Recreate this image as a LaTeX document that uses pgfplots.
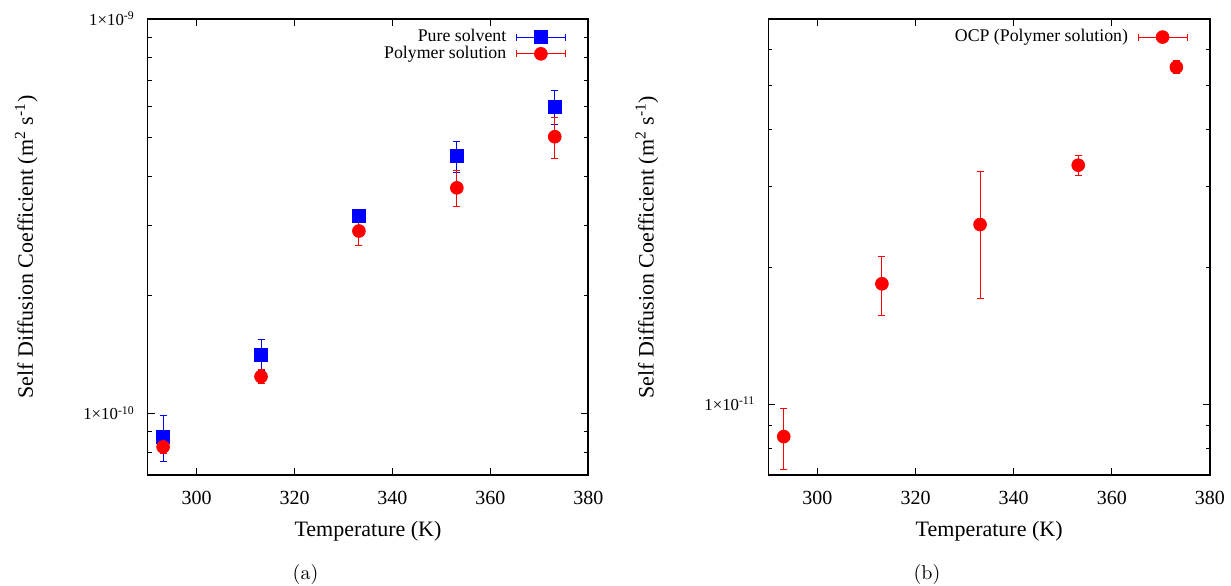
\documentclass[border=0pt]{standalone}
\usepackage{fontspec}
\setmainfont{Liberation Serif}
\newfontfamily\lmfont{Latin Modern Roman}
\usepackage{pgfplots}
\pgfplotsset{compat=1.18}

% left: pure solvent / polymer solution, right: OCP
\pgfplotstableread{
T D err
293.15 8.74e-11 1.15e-11
313.15 1.413e-10 0.127e-10
333.15 3.17e-10 0.10e-10
353.15 4.50e-10 0.41e-10
373.15 6.00e-10 0.58e-10
}\pure
\pgfplotstableread{
T D err
293.15 8.25e-11 0.3e-11
313.15 1.243e-10 0.05e-10
333.15 2.905e-10 0.24e-10
353.15 3.737e-10 0.39e-10
373.15 5.035e-10 0.60e-10
}\poly
\pgfplotstableread{
T D err
293.15 8.5e-12 1.3e-12
313.15 1.839e-11 0.27e-11
333.15 2.48e-11 0.77e-11
353.15 3.347e-11 0.17e-11
373.15 5.49e-11 0.18e-11
}\ocp

\pgfplotsset{
  ebleg/.style={legend image code/.code={
    \draw[##1, mark=none, line width=0.5pt] (0pt,0pt) -- (24.5pt,0pt);
    \draw[##1, mark=none, line width=0.5pt] (0pt,-1.75pt) -- (0pt,1.75pt) (24.5pt,-1.75pt) -- (24.5pt,1.75pt);
    \draw[##1] plot coordinates {(12.25pt,0pt)};
  }},
  dcaxis/.style={
    scale only axis, height=228pt,
    xmin=290, xmax=380, xtick={300,320,340,360,380}, minor x tick num=0,
    tick align=inside, major tick length=3.5pt, minor tick length=2pt,
    every tick/.style={black, line width=0.5pt},
    axis line style={line width=0.8pt},
    /pgf/number format/assume math mode=true,
    xticklabel style={font=\fontsize{10}{12}\selectfont, anchor=base, yshift=-14.5pt},
    yticklabel style={font=\fontsize{8.4}{10}\selectfont, anchor=base east, inner sep=0pt, xshift=-6.3pt, yshift=-3pt},
    every axis x label/.style={at={(rel axis cs:0.5,0)}, anchor=base, yshift=-30.85pt, font=\fontsize{11}{13}\selectfont},
    every axis y label/.style={at={([xshift=-57.35pt]rel axis cs:0,0.5)}, rotate=90, anchor=base, font=\fontsize{11}{13}\selectfont},
    xlabel={Temperature (K)},
    ylabel={Self Diffusion Coefficient (m\textsuperscript{2} s\textsuperscript{-1})},
    legend style={draw=none, fill=none, anchor=north east, at={(rel axis cs:1,1)},
      xshift=-11pt, yshift=-4.6pt, inner sep=0pt, row sep=0pt,
      font=\fontsize{8.9}{9}\selectfont,
      nodes={inner xsep=4.8pt, inner ysep=0pt, text height=0.64em, text depth=0.2em},
      cells={anchor=east}},
    legend plot pos=right,
  },
  ebars/.style={error bars/.cd, y dir=both, y explicit,
    error bar style={line width=0.5pt},
    error mark options={mark size=1.75pt, line width=0.5pt, rotate=90}},
}

\begin{document}
\begin{tikzpicture}
\useasboundingbox (0,0) rectangle (615.5pt,292.5pt);

\begin{axis}[dcaxis, ymode=log, at={(73.85pt,55pt)}, anchor=south west, width=220.3pt,
  ymin=7e-11, ymax=1e-9,
  ytick={1e-10,1e-9},
  yticklabels={1×10\textsuperscript{-10}, 1×10\textsuperscript{-9}},
  minor ytick={8e-11,9e-11,2e-10,3e-10,4e-10,5e-10,6e-10,7e-10,8e-10,9e-10}]
\addplot[blue, only marks, mark=square*, mark size=3.3pt, ebleg, ebars]
  table[x=T, y=D, y error=err] {\pure};
\addlegendentry{Pure solvent}
\addplot[red, only marks, mark=*, mark size=3.2pt, ebleg, ebars]
  table[x=T, y=D, y error=err] {\poly};
\addlegendentry{Polymer solution}
\end{axis}

\begin{axis}[dcaxis, ymode=log, at={(384.15pt,55pt)}, anchor=south west, width=220.85pt,
  ymin=7e-12, ymax=7e-11,
  ytick={1e-11},
  yticklabels={1×10\textsuperscript{-11}},
  minor ytick={8e-12,9e-12,2e-11,3e-11,4e-11,5e-11,6e-11}]
\addplot[red, only marks, mark=*, mark size=3.2pt, ebleg, ebars]
  table[x=T, y=D, y error=err] {\ocp};
\addlegendentry{OCP (Polymer solution)}
\end{axis}

\node[font=\lmfont\fontsize{10}{12}\selectfont, anchor=base] at (152.75pt,2.85pt) {(a)};
\node[font=\lmfont\fontsize{10}{12}\selectfont, anchor=base] at (463.5pt,2.85pt) {(b)};
\end{tikzpicture}
\end{document}
